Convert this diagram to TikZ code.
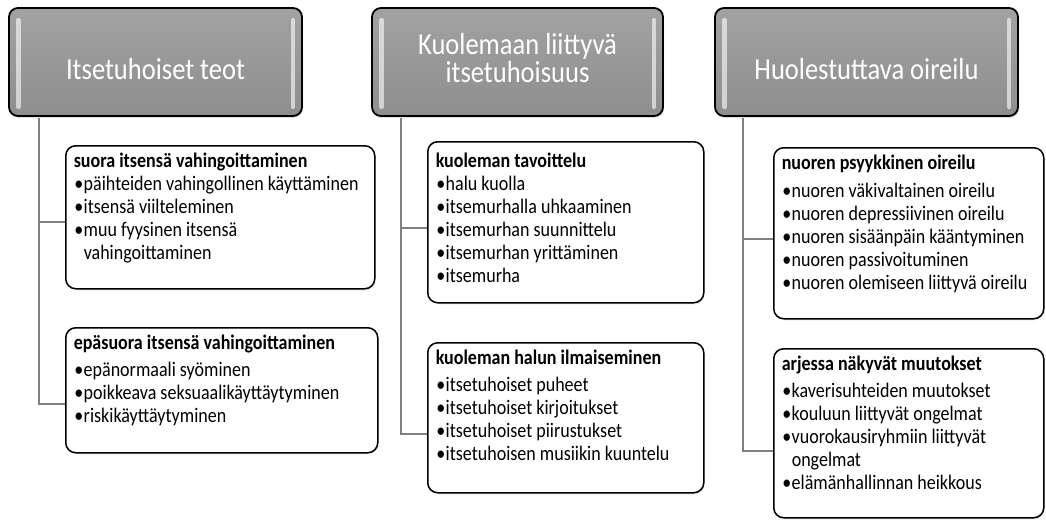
\documentclass[tikz,border=0pt]{standalone}
\usepackage{fontspec}
\setmainfont{Carlito}[FakeStretch=0.87]
\usetikzlibrary{shadows}
\definecolor{headtop}{RGB}{162,162,162}
\definecolor{headbot}{RGB}{142,142,142}
\definecolor{linkgray}{RGB}{128,128,128}

\begin{document}
\begin{tikzpicture}[x=1pt,y=-1pt]
    \tikzstyle{every node}=[font=\fontsize{20.7}{23}\selectfont]
    \tikzstyle{header}=[draw=black, line width=1.8pt, rounded corners=9pt,
        top color=headtop, bottom color=headbot, text=white, align=center,
        font=\fontsize{30.5}{28}\selectfont, minimum height=108pt,
        text height=35pt, text depth=0pt,
        drop shadow={opacity=0.25, shadow xshift=1pt, shadow yshift=-2pt}]
    \tikzstyle{childbox}=[draw=black, line width=1.5pt, fill=white, rounded corners=10pt,
        anchor=north west, inner xsep=8pt, inner ysep=0pt,
        drop shadow={opacity=0.2, shadow xshift=1pt, shadow yshift=-1.5pt}]
    \tikzstyle{link}=[draw=linkgray, line width=2pt, shorten <=1pt]
    \tikzstyle{glare}=[white, opacity=0.6, line width=4.5pt, line cap=round]
    \def\bul{\par\makebox[10pt][c]{\textbullet}}
    \def\cont{\\\hspace*{10pt}}
    \def\boxtop{\raggedright\vspace*{7pt}}
    \useasboundingbox (0,0) rectangle (1046,519);
    % Headers
    \node[header, minimum width=293pt] (selfharm) at (155.5,62) {Itsetuhoiset teot};
    \node[header, minimum width=291pt, text height=21pt, text depth=36pt] (deathwish) at (517.5,62)
        {\parbox[t]{270pt}{\centering\lineskiplimit=-20pt\baselineskip=28pt Kuolemaan liittyvä\par itsetuhoisuus}};
    \node[header, minimum width=303pt] (worry) at (866.5,62) {Huolestuttava oireilu};
    \foreach \n in {selfharm,deathwish,worry} {
        \draw[glare] ([xshift=10.5pt,yshift=-13pt]\n.north west) -- ([xshift=10.5pt,yshift=10pt]\n.south west);
        \draw[glare] ([xshift=-10pt,yshift=-13pt]\n.north east) -- ([xshift=-10pt,yshift=10pt]\n.south east);
    }
    % First column
    \node[childbox] (direct) at (65,145) {\begin{minipage}[t][143pt][t]{293pt}\boxtop
        \textbf{suora itsensä vahingoittaminen}\par
        \bul päihteiden vahingollinen käyttäminen
        \bul itsensä viilteleminen
        \bul muu fyysinen itsensä\cont vahingoittaminen
    \end{minipage}};
    \node[childbox] (indirect) at (65,327) {\begin{minipage}[t][125pt][t]{296pt}\boxtop
        \textbf{epäsuora itsensä vahingoittaminen}\par\vspace{4pt}
        \bul epänormaali syöminen
        \bul poikkeava seksuaalikäyttäytyminen
        \bul riskikäyttäytyminen
    \end{minipage}};
    % Second column
    \node[childbox] (seeking) at (427,141) {\begin{minipage}[t][161pt][t]{260pt}\raggedright\vspace*{11pt}
        \textbf{kuoleman tavoittelu}\par
        \bul halu kuolla
        \bul itsemurhalla uhkaaminen
        \bul itsemurhan suunnittelu
        \bul itsemurhan yrittäminen
        \bul itsemurha
    \end{minipage}};
    \node[childbox] (expressing) at (427,342) {\begin{minipage}[t][150pt][t]{260pt}\boxtop
        \textbf{kuoleman halun ilmaiseminen}\par\vspace{4pt}
        \bul itsetuhoiset puheet
        \bul itsetuhoiset kirjoitukset
        \bul itsetuhoiset piirustukset
        \bul itsetuhoisen musiikin kuuntelu
    \end{minipage}};
    % Third column
    \node[childbox] (psychic) at (773,147) {\begin{minipage}[t][171pt][t]{254pt}\boxtop
        \textbf{nuoren psyykkinen oireilu}\par\vspace{5pt}
        \bul nuoren väkivaltainen oireilu
        \bul nuoren depressiivinen oireilu
        \bul nuoren sisäänpäin kääntyminen
        \bul nuoren passivoituminen
        \bul nuoren olemiseen liittyvä oireilu
    \end{minipage}};
    \node[childbox] (daily) at (773,348) {\begin{minipage}[t][169pt][t]{254pt}\boxtop
        \textbf{arjessa näkyvät muutokset}\par\vspace{4pt}
        \bul kaverisuhteiden muutokset
        \bul kouluun liittyvät ongelmat
        \bul vuorokausiryhmiin liittyvät\cont ongelmat
        \bul elämänhallinnan heikkous
    \end{minipage}};
    % Connectors
    \draw[link] ([xshift=31pt]selfharm.south west) |- ([yshift=-4.5pt]direct.west);
    \draw[link] ([xshift=31pt]selfharm.south west) |- ([yshift=-13.5pt]indirect.west);
    \draw[link] ([xshift=30pt]deathwish.south west) |- ([yshift=-5.5pt]seeking.west);
    \draw[link] ([xshift=30pt]deathwish.south west) |- ([yshift=-16pt]expressing.west);
    \draw[link] ([xshift=29pt]worry.south west) |- ([yshift=-5.5pt]psychic.west);
    \draw[link] ([xshift=29pt]worry.south west) |- ([yshift=-17.5pt]daily.west);
\end{tikzpicture}
\end{document}
